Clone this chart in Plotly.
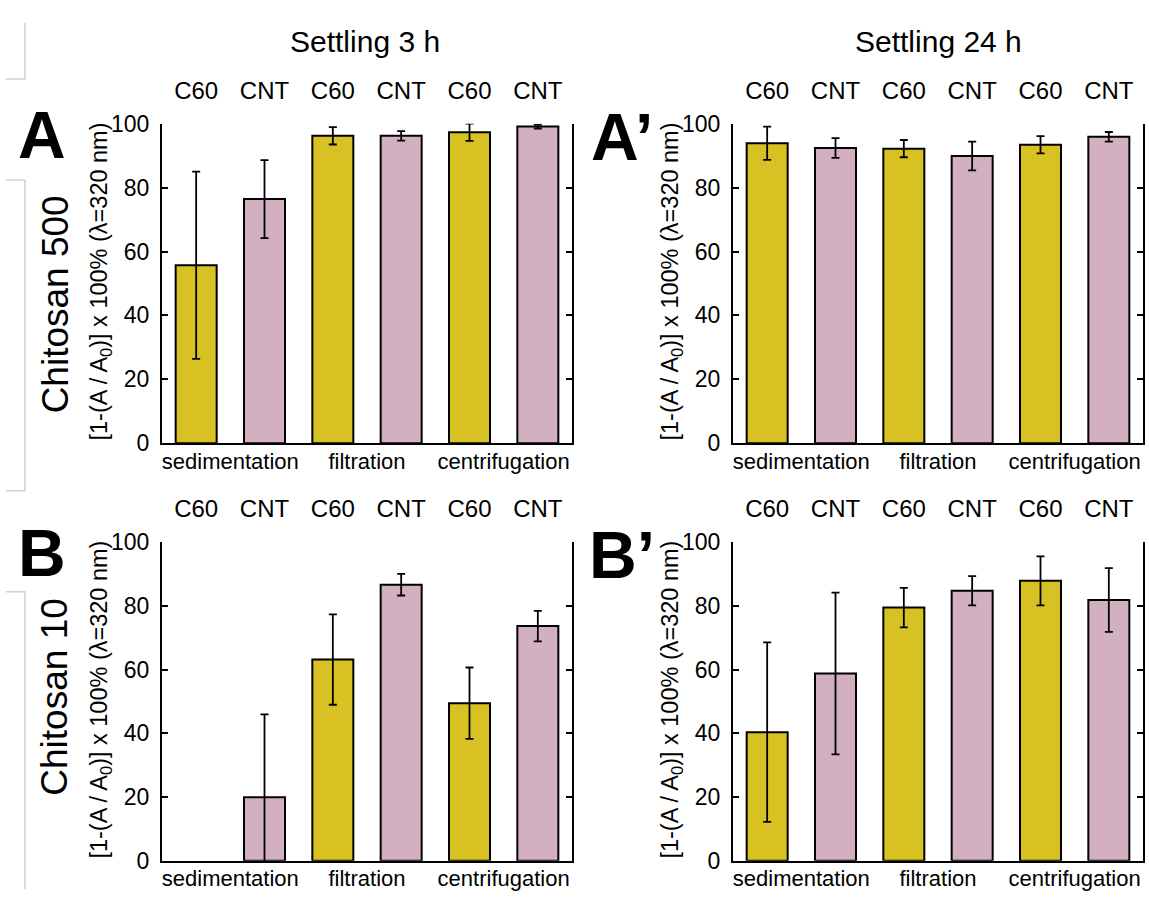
import plotly.graph_objects as go

W, H = 1149, 902

# ---- data -------------------------------------------------------------
materials = ["C60", "CNT", "C60", "CNT", "C60", "CNT"]
methods = ["sedimentation", "filtration", "centrifugation"]
y_ticks = [0, 20, 40, 60, 80, 100]

# Chitosan 500, settling 3 h
a_vals = [55.7, 76.4, 96.2, 96.2, 97.3, 99.1]
a_err = [29.3, 12.2, 2.7, 1.5, 2.7, 0.6]
# Chitosan 500, settling 24 h
a2_vals = [93.9, 92.4, 92.2, 89.9, 93.4, 95.9]
a2_err = [5.2, 3.1, 2.7, 4.5, 2.7, 1.5]
# Chitosan 10, settling 3 h (no C60 removal by sedimentation)
b_vals = [None, 20.0, 63.2, 86.7, 49.5, 73.7]
b_err = [None, 26.0, 14.2, 3.4, 11.2, 4.8]
# Chitosan 10, settling 24 h
b2_vals = [40.4, 58.8, 79.5, 84.8, 87.9, 81.9]
b2_err = [28.2, 25.4, 6.2, 4.6, 7.7, 10.0]

# ---- styling ----------------------------------------------------------
C60_COLOR = "#D8C223"
CNT_COLOR = "#D3AFC2"
FONT = "Liberation Sans, Arial, sans-serif"
bar_colors = [C60_COLOR if m == "C60" else CNT_COLOR for m in materials]


def fx(px):
    return px / W


def fy(py):
    return 1 - py / H


# panel frames in pixels: (left, right, top(100), bottom(0))
panels = [
    (a_vals, a_err, 162, 572, 114, 443),
    (a2_vals, a2_err, 733, 1143, 114, 443),
    (b_vals, b_err, 162, 572, 545, 873),
    (b2_vals, b2_err, 733, 1143, 545, 873),
]

fig = go.Figure()
layout = {}
positions = list(range(len(materials)))

for i, (vals, errs, l, r, t, b) in enumerate(panels):
    xb = 2 * i + 1          # bottom x axis
    xt = 2 * i + 2          # top x axis (material labels)
    yn = i + 1
    xb_name = "x" if xb == 1 else f"x{xb}"
    xt_name = f"x{xt}"
    y_name = "y" if yn == 1 else f"y{yn}"

    fig.add_trace(go.Bar(
        x=positions, y=vals,
        marker=dict(color=bar_colors, line=dict(color="black", width=2)),
        error_y=dict(type="data", array=errs, visible=True,
                     color="black", thickness=1.8, width=4),
        xaxis=xb_name, yaxis=y_name, showlegend=False,
    ))
    fig.add_trace(go.Scatter(
        x=positions, y=[None] * len(positions), mode="markers",
        xaxis=xt_name, yaxis=y_name, showlegend=False, hoverinfo="skip",
    ))

    dom_x = [fx(l), fx(r)]
    dom_y = [fy(b), fy(t)]
    xb_key = "xaxis" if xb == 1 else f"xaxis{xb}"
    layout[xb_key] = dict(
        domain=dom_x, anchor=y_name, range=[-0.5, 5.5],
        tickvals=[0.5, 2.5, 4.5], ticktext=methods, ticks="",
        showline=True, linecolor="black", linewidth=2,
        showgrid=False, zeroline=False, ticklabelstandoff=-3,
        tickfont=dict(family=FONT, size=22, color="black"),
    )
    layout[f"xaxis{xt}"] = dict(
        domain=dom_x, anchor=y_name, overlaying=xb_name, side="top",
        range=[-0.5, 5.5], tickvals=positions, ticktext=materials,
        ticks="", showline=False, showgrid=False, zeroline=False,
        ticklabelstandoff=19,
        tickfont=dict(family=FONT, size=24, color="black"),
    )
    y_key = "yaxis" if yn == 1 else f"yaxis{yn}"
    layout[y_key] = dict(
        domain=dom_y, anchor=xb_name, range=[0, 100],
        tickvals=y_ticks, ticks="inside", ticklen=6, tickwidth=2,
        tickcolor="black", showline=True, mirror="ticks",
        linecolor="black", linewidth=2, showgrid=False, zeroline=False,
        ticklabelstandoff=6,
        tickfont=dict(family=FONT, size=23, color="black"),
    )

ytitle = "[1-(A / A<sub>0</sub>)] x 100% (\u03bb=320 nm)"
annotations = []


def note(text, x, y, size, angle=0, bold=False):
    annotations.append(dict(
        text=f"<b>{text}</b>" if bold else text,
        x=fx(x), y=fy(y), xref="paper", yref="paper",
        xanchor="center", yanchor="middle", showarrow=False,
        textangle=angle, font=dict(family=FONT, size=size, color="black"),
    ))


note("Settling 3 h", 365, 29, 30)
note("Settling 24 h", 938, 29, 30)
note("A", 42, 126, 66, bold=True)
note("A\u2019", 622, 128, 66, bold=True)
note("B", 42, 556, 66, bold=True)
note("B\u2019", 622, 558, 66, bold=True)
note("Chitosan 500", 55, 300, 37, angle=-90)
note("Chitosan 10", 55, 705, 37, angle=-90)
for (_, _, l, r, t, b) in panels:
    note(ytitle, l - 61, (t + b) / 2 - 2, 23.5, angle=-90)

# thin grey frame lines along the left margin
shapes = []
grey = dict(color="#c4c4c4", width=1.2)
segments = [
    (25, 10, 25, 68), (6, 68, 25, 68), (6, 172, 25, 172),
    (25, 172, 25, 492), (6, 492, 25, 492), (6, 596, 25, 596),
    (25, 596, 25, 902),
]
for x0, y0, x1, y1 in segments:
    shapes.append(dict(type="line", xref="paper", yref="paper",
                       x0=fx(x0), y0=fy(y0), x1=fx(x1), y1=fy(y1), line=grey))

fig.update_layout(
    width=W, height=H, margin=dict(l=0, r=0, t=0, b=0),
    paper_bgcolor="white", plot_bgcolor="white",
    bargap=0.4, annotations=annotations, shapes=shapes,
    font=dict(family=FONT, color="black"),
    **layout,
)

fig.write_html("out.html")
